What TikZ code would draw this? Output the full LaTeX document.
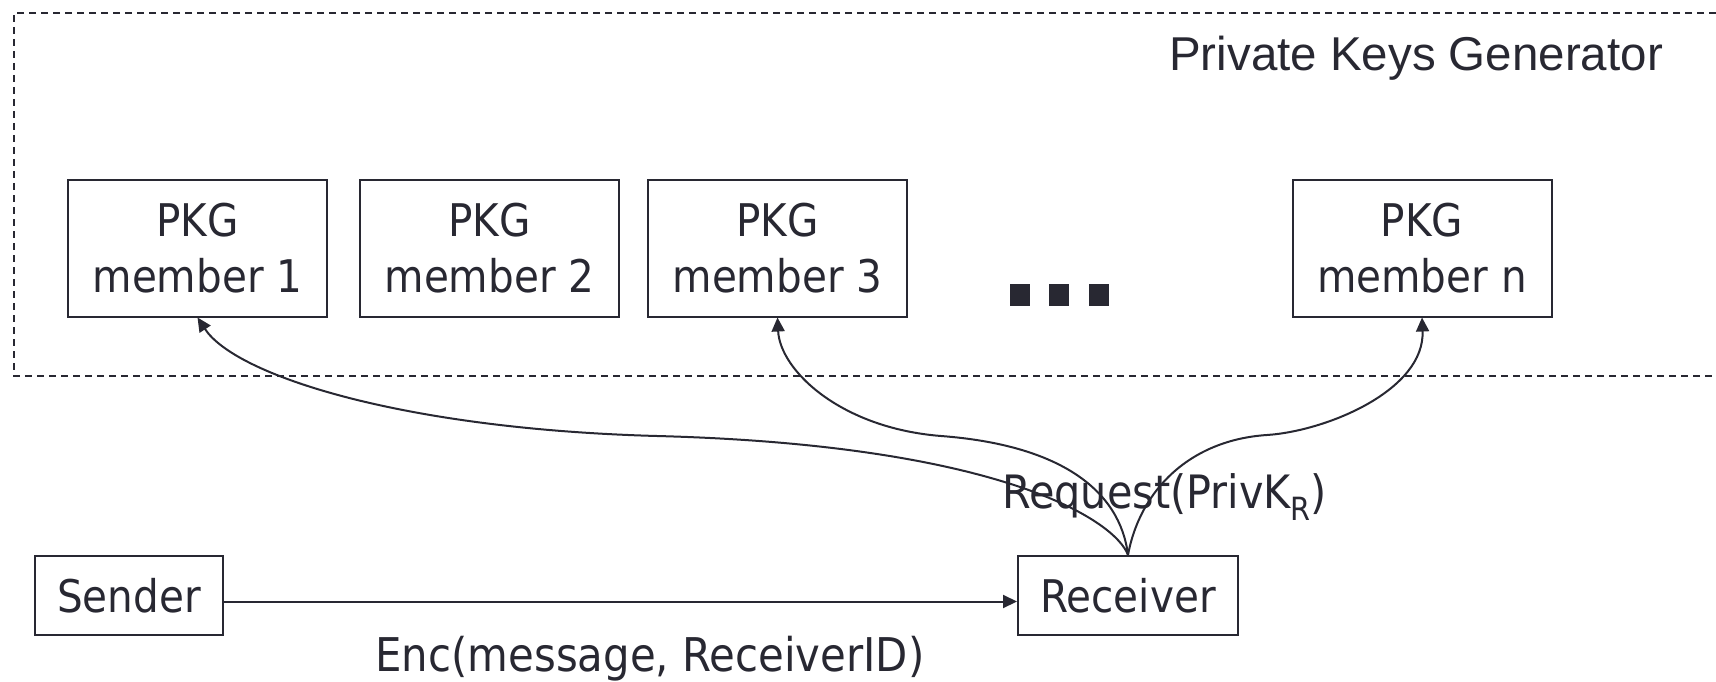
\documentclass[tikz,border=0pt]{standalone}
\usepackage{fontspec}
\setmainfont{DejaVu Sans}[FakeStretch=0.9]
\newfontfamily\titlefont{Liberation Sans}
\usetikzlibrary{arrows.meta}
\definecolor{ink}{RGB}{40,40,50}
\begin{document}
\begin{tikzpicture}[x=1pt,y=-1pt,
  box/.style={draw=ink, line width=2pt, text=ink, align=center, inner sep=0pt,
              font=\fontsize{45}{56}\selectfont},
  pkgbox/.style={box, minimum width=259pt, minimum height=137pt},
  lbl/.style={text=ink, inner sep=0pt},
  conn/.style={draw=ink, line width=2pt, -{Triangle[length=14pt,width=13pt]}},
  frame/.style={draw=ink, line width=1.5pt, dash pattern=on 7pt off 5pt}]
\useasboundingbox (0,0) rectangle (1716,682);

% dashed group frame
\draw[frame] (1716,13) -- (14,13) -- (14,376) -- (1716,376);
\node[lbl, font=\titlefont\fontsize{47.5}{56}\selectfont, anchor=base west] (title) at (1169,71) {Private Keys Generator};

% PKG members
\node[pkgbox] (m1) at (197.5,248) {PKG\\member 1};
\node[pkgbox] (m2) at (489.5,248) {PKG\\member 2};
\node[pkgbox] (m3) at (777.5,248) {PKG\\member 3};
\node[pkgbox] (mn) at (1422,248) {PKG\\member n};

% ellipsis
\fill[ink] (1010,284) rectangle (1030,306);
\fill[ink] (1049,284) rectangle (1069,306);
\fill[ink] (1089,284) rectangle (1109,306);

% sender / receiver
\node[box, minimum width=188pt, minimum height=79pt] (snd) at (129,595.5) {Sender};
\node[box, minimum width=220pt, minimum height=79pt] (rcv) at (1128,595.5) {Receiver};

\draw[conn] ([yshift=-6pt]snd.east) -- ([yshift=-6pt]rcv.west);
\node[lbl, font=\fontsize{46.5}{56}\selectfont, anchor=base] (enc) at (650,671) {Enc(message, ReceiverID)};

% waypoints
\coordinate (w1) at (657,436);
\coordinate (w3) at (941,436);
\coordinate (wn) at (1267,435);

\draw[conn] (rcv.north) .. controls (1115,520) and (1000,445) .. (w1)
                        .. controls (400,429) and (235,375) .. (m1.south);
\draw[conn] (rcv.north) .. controls (1120,490) and (1060,445) .. (w3)
                        .. controls (840,428) and (780,370) .. (m3.south);
\draw[conn] (rcv.north) .. controls (1140,490) and (1190,440) .. (wn)
                        .. controls (1327,431) and (1425,390) .. (mn.south);

\node[lbl, font=\fontsize{46}{56}\selectfont, anchor=base west] (req) at (1002,508)
  {Request(PrivK\raisebox{-12pt}{\fontsize{32}{32}\selectfont R})};
\end{tikzpicture}
\end{document}
